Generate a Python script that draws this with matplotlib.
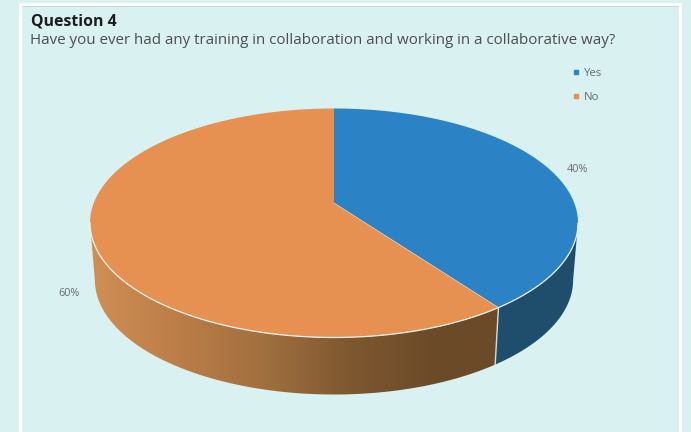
import numpy as np
import matplotlib
matplotlib.use("Agg")
import matplotlib.pyplot as plt
from matplotlib.colors import LinearSegmentedColormap
from matplotlib.lines import Line2D

categories = ["Yes", "No"]
shares = [40, 60]

BG = "#d9f1f1"
TOP_COLORS = ["#2b83c6", "#e69151"]
YES_SIDE = "#1f4e6d"
NO_SIDE = LinearSegmentedColormap.from_list(
    "no_side", ["#cf8f54", "#bc7d48", "#a0703f", "#7d5730", "#6b4a28"]
)

# pie geometry in image pixels
CX, CY = 334, 223
RX, RY = 244, 114.5
APEX_SHIFT = 20
DEPTH = 57
BOTTOM_SCALE = 0.98  # lower rim sits a little further from the viewer


def project(theta):
    """Rim point for an angle clockwise from 12 o'clock, with the tilt's perspective."""
    a = APEX_SHIFT / RY
    w = 1 + a * np.cos(theta)
    x = CX + RX * np.sqrt(1 - a**2) * np.sin(theta) / w
    y = CY - (RY * np.cos(theta) + APEX_SHIFT) / w
    return x, y


def lower(x, y):
    return CX + (x - CX) * BOTTOM_SCALE, y + DEPTH


def side_outline(t0, t1):
    x, y = project(np.linspace(t0, t1, 200))
    bx, by = lower(x, y)
    return np.r_[x, bx[::-1]], np.r_[y, by[::-1]]


fig = plt.figure(figsize=(6.91, 4.32), dpi=100, facecolor=BG)
ax = fig.add_axes([0, 0, 1, 1])

# white page frame
ax.plot([20, 20, 680, 680], [432, 4, 4, 432], color="white", lw=2.2, solid_joinstyle="miter")
ax.plot([22, 678], [6, 6], color="#c4d8d8", lw=0.7)

fractions = np.cumsum([0] + shares) / sum(shares)
edges = 2 * np.pi * fractions
front_start = np.arccos(-APEX_SHIFT / RY)
front_end = 2 * np.pi - front_start
apex = (CX, CY - APEX_SHIFT)

# side wall: flat blue, brown shaded left to right through a clipped gradient
x, y = side_outline(front_start, edges[1])
ax.fill(x, y, color=YES_SIDE, lw=0)
x, y = side_outline(edges[1], front_end)
outline = ax.fill(x, y, color="none", lw=0)[0]
img = ax.imshow(np.linspace(0, 1, 256).reshape(1, -1), cmap=NO_SIDE,
                extent=(90, 440, 400, 200), aspect="auto", zorder=1.5)
img.set_clip_path(outline)
dark_end = ax.fill_between([440, 500], 200, 400, color=NO_SIDE(1.0), lw=0, zorder=1.5)
dark_end.set_clip_path(outline)

# top face
for i, color in enumerate(TOP_COLORS):
    t = np.linspace(edges[i], edges[i + 1], 300)
    x, y = project(t)
    ax.fill(np.r_[apex[0], x], np.r_[apex[1], y], color=color, lw=0, zorder=2)

# pale rim and separators
t = np.linspace(front_start, front_end, 400)
ax.plot(*project(t), color="#eef3ef", lw=0.9, zorder=3)
sx, sy = project(edges[1])
ax.plot([apex[0], sx], [apex[1], sy], color="#f0ddc8", lw=0.4, zorder=3)
ax.plot([sx, lower(sx, sy)[0]], [sy, lower(sx, sy)[1]], color="#d5dcdc", lw=1.0, zorder=3)

# titles
ax.text(31, 21, "Question 4", family="Open Sans", weight="bold", fontsize=11.4,
        color="#1d1d1f", va="center", ha="left")
ax.text(30, 41, "Have you ever had any training in collaboration and working in a collaborative way?",
        family="Open Sans", fontsize=10.9, color="#4a4f50", va="center", ha="left")

# data labels
label_pos = [(577, 169), (69, 294)]
for share, (lx, ly) in zip(shares, label_pos):
    ax.text(lx, ly, f"{share}%", family="Open Sans", fontsize=7.8, color="#666c6d",
            ha="center", va="center")

ax.set_xlim(0, 691)
ax.set_ylim(432, 0)
ax.axis("off")

# legend
handles = [
    Line2D([], [], ls="", marker="s", ms=2.8, color=c) for c in TOP_COLORS
]
ax.legend(handles, categories, loc="upper left", bbox_to_anchor=(0.830, 0.842),
          frameon=False, prop={"family": "Open Sans", "size": 8.2},
          labelcolor="#666c6d", labelspacing=1.12, handlelength=0.5,
          handletextpad=0.4, borderpad=0, borderaxespad=0)

fig.savefig("out.png", dpi=100, facecolor=BG)
